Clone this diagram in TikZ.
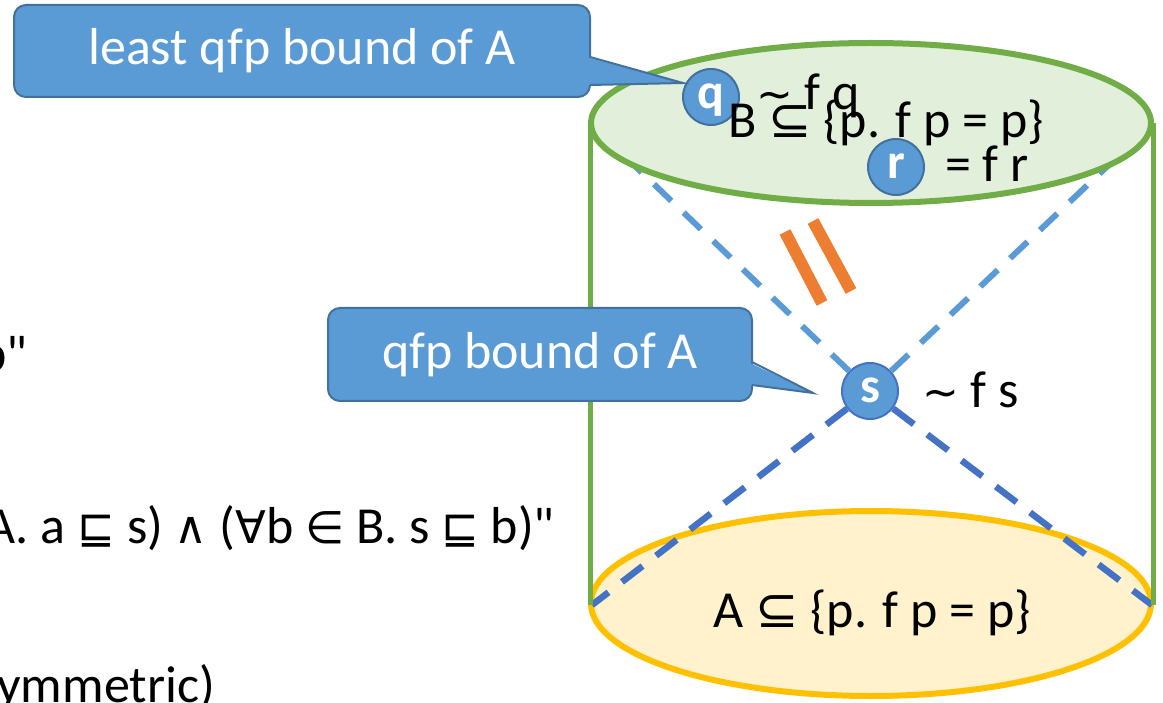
\documentclass[tikz,border=0pt]{standalone}
\usepackage{fontspec}
\setmainfont{Carlito}[Ligatures=TeXOff]
\newfontfamily\symf{DejaVu Sans}
\usetikzlibrary{shapes.geometric}
\definecolor{cblue}{HTML}{5B9BD5}
\definecolor{cbord}{HTML}{41719C}
\definecolor{dblue}{HTML}{4472C4}
\definecolor{cgreen}{HTML}{70AD47}
\definecolor{lgreen}{HTML}{E2EFDA}
\definecolor{cyel}{HTML}{FFC000}
\definecolor{lyel}{HTML}{FFF2CC}
\definecolor{corange}{HTML}{ED7D31}
\newcommand\sy[1]{{\symf\fontsize{52}{60}\selectfont #1}}
\newcommand\sm[1]{{\symf\fontsize{45}{52}\selectfont #1}}
\newcommand\tl{{\symf\fontsize{44}{50}\selectfont ∼}}
\begin{document}
\begin{tikzpicture}[x=1pt,y=-1pt,
  txt/.style={font=\fontsize{52}{62}\selectfont, inner sep=0pt},
  callout/.style={rounded corners=12pt, fill=cblue, draw=cbord, line width=2pt, text=white, font=\fontsize{52}{62}\selectfont, inner sep=0pt},
  tailedge/.style={draw=cbord, line width=2pt, line join=miter},
  pt/.style={circle, fill=cblue, draw=cbord, line width=2pt, minimum size=56pt, inner sep=0pt, text=white, font=\fontsize{50}{60}\selectfont\bfseries, text height=24pt, text depth=0pt},
  updash/.style={draw=cblue, line width=6pt, dash pattern=on 24pt off 17pt},
  lowdash/.style={draw=dblue, line width=6.5pt, dash pattern=on 26pt off 17pt},
  topell/.style={ellipse, draw=cgreen, fill=lgreen, line width=6pt, minimum width=560pt, minimum height=160pt, inner sep=0pt},
  botell/.style={ellipse, draw=cyel, fill=lyel, line width=6pt, minimum width=560pt, minimum height=185pt, inner sep=0pt},
  side/.style={draw=cgreen, line width=5pt},
  bar/.style={draw=corange, line width=12pt}
]
\useasboundingbox (0,0) rectangle (1163,703);
% bottom ellipse
\node[botell] (bot) at (871,603.5) {};
% s point
\node[pt, draw=dblue] (s) at (870,391) {s};
\coordinate (tl) at (590,123);
\coordinate (tr) at (1153,123);
\coordinate (bl) at (592,605);
\coordinate (br) at (1152,605);
\draw[updash] (s) -- (tl);
\draw[updash] (s) -- (tr);
\draw[lowdash] (s) -- (bl);
\draw[lowdash] (s) -- (br);
% top ellipse
\node[topell] (top) at (871,123) {};
% sides
\draw[side] (tl) -- (590,605);
\draw[side] (tr) -- (1153,605);
% orange equality bars
\draw[bar] (785,232) -- (822,303);
\draw[bar] (813,221) -- (851,291);
% points q, r
\node[pt] (q) at (711,97) {q};
\node[pt] (r) at (896,167) {r};
% texts
\node[txt, anchor=base west] (tq) at (756,110) {\tl\ f q};
\node[txt, anchor=base west] (tB) at (728,138) {B \sy{⊆} \{p. f p = p\}};
\node[txt, anchor=base west] (tr2) at (945,182) {= f r};
\node[txt, anchor=base west] (ts) at (922,408) {\tl\ f s};
\node[txt, anchor=base west] (tA) at (713,627) {A \sy{⊆} \{p. f p = p\}};
% left texts (cut off)
\node[txt, anchor=base east] (l1) at (28,372) {b"};
\node[txt, anchor=base east] (l2) at (555,543) {A. a \sm{⊑} s) \sm{∧} (\sm{∀}b \sm{∈} B. s \sm{⊑} b)"};
\node[txt, anchor=base east] (l3) at (215,702) {ymmetric)};
% callouts
\node[callout, minimum width=576pt, minimum height=92pt] (c1) at (302,51) {least qfp bound of A};
\coordinate (tip1) at (683,83);
\fill[cblue] (586,57) -- (tip1) -- (586,85) -- cycle;
\draw[tailedge] (590,57) -- (tip1) -- (590,85);
\node[callout, minimum width=424pt, minimum height=93pt] (c2) at (540,354.5) {qfp bound of A};
\coordinate (tip2) at (813,393);
\fill[cblue] (748,362) -- (tip2) -- (748,385) -- cycle;
\draw[tailedge] (752,362) -- (tip2) -- (752,385);
\end{tikzpicture}
\end{document}
